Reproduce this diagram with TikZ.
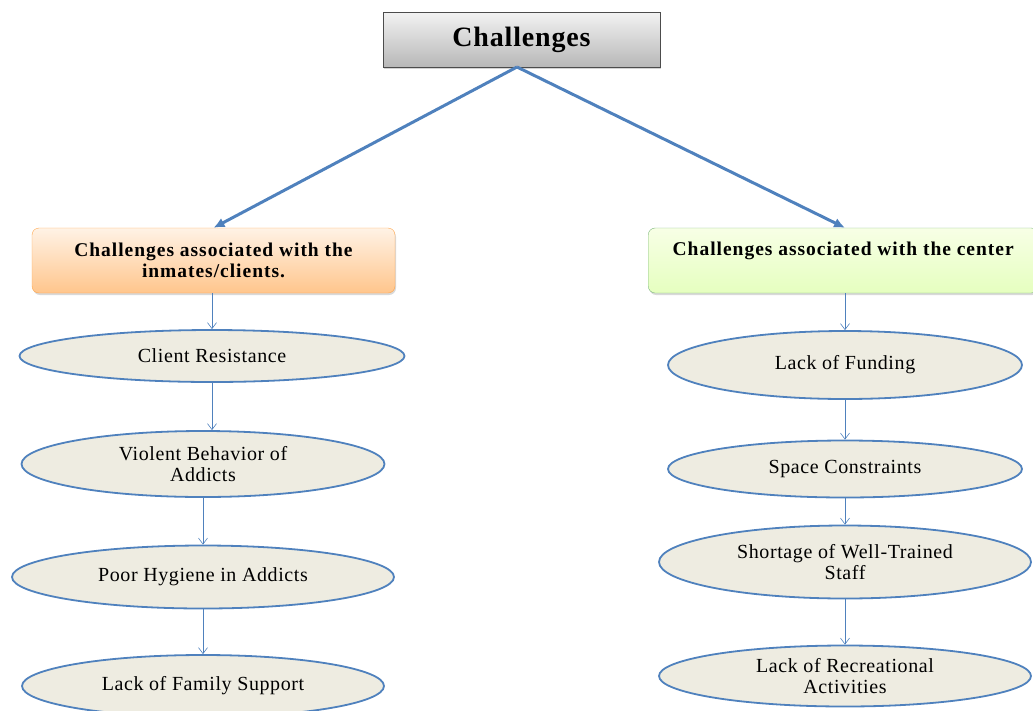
\documentclass[tikz,border=0pt]{standalone}
\usepackage{fontspec}
\setmainfont{Liberation Serif}
\usepackage{tikz}
\usetikzlibrary{arrows.meta,positioning,shapes.geometric,shadows}
\definecolor{obblue}{HTML}{4F81BD}
\definecolor{obeige}{HTML}{EEECE1}

\begin{document}
\begin{tikzpicture}[x=1pt,y=-1pt,
  topbox/.style={draw=black!70,thin,top color=white!95!black,bottom color=black!28,minimum width=277pt,minimum height=55pt,font=\fontsize{28}{30}\selectfont\bfseries\addfontfeature{LetterSpace=3},drop shadow={shadow xshift=1pt,shadow yshift=-2pt,opacity=.35}},
  groupbox/.style={rounded corners=7pt,thin,minimum height=65pt,align=center,font=\fontsize{19.5}{21}\selectfont\bfseries\addfontfeature{LetterSpace=5},drop shadow={shadow xshift=1pt,shadow yshift=-2pt,opacity=.3}},
  challenge/.style={ellipse,draw=obblue,line width=1.8pt,fill=obeige,inner sep=0pt,align=center,font=\fontsize{20}{21}\selectfont\addfontfeature{LetterSpace=3}},
  bigarrow/.style={-{Latex[length=11pt,width=10pt]},draw=obblue,line width=3pt},
  thinarrow/.style={-{Straight Barb[length=6pt,width=9pt]},draw=obblue,line width=.6pt}]
\useasboundingbox (0,0) rectangle (1033,710);
\node[topbox] (top) at (521.5,39.5) {Challenges};
\node[groupbox,draw=orange!70,top color=orange!10,bottom color=orange!45,minimum width=363pt] (clients) at (213.5,260.5) {Challenges associated with the\\inmates/clients.};
\node[groupbox,draw=green!45!black!50,top color=green!30!yellow!10,bottom color=green!40!yellow!25,minimum width=390pt,anchor=west,text depth=23pt] (center) at (648,260.5) {Challenges associated with the center};
\coordinate (apex) at (517,67);
\draw[bigarrow] (apex) -- (clients.north);
\draw[bigarrow] (apex) -- (center.north -| 845,0);
% inmates / clients column
\node[challenge,minimum width=385pt,minimum height=52pt] (resist) at (212,356) {Client Resistance};
\node[challenge,minimum width=363pt,minimum height=66pt] (violent) at (203,464) {Violent Behavior of\\Addicts};
\node[challenge,minimum width=382pt,minimum height=63pt] (hygiene) at (203,577) {Poor Hygiene in Addicts};
\node[challenge,minimum width=362pt,minimum height=62pt] (family) at (203,686) {Lack of Family Support};
\draw[thinarrow] (clients.south -| resist.north) -- (resist.north);
\draw[thinarrow] (resist.south) -- (resist.south |- violent.north);
\draw[thinarrow] (violent.south) -- (hygiene.north);
\draw[thinarrow] (hygiene.south) -- (family.north);
% center column
\node[challenge,minimum width=354pt,minimum height=68pt] (funding) at (845,365) {Lack of Funding};
\node[challenge,minimum width=354pt,minimum height=57pt] (space) at (845,469) {Space Constraints};
\node[challenge,minimum width=372pt,minimum height=73pt] (staff) at (845,562) {Shortage of Well-Trained\\Staff};
\node[challenge,minimum width=372pt,minimum height=61pt] (recreation) at (845,676) {Lack of Recreational\\Activities};
\draw[thinarrow] (center.south -| funding.north) -- (funding.north);
\draw[thinarrow] (funding.south) -- (space.north);
\draw[thinarrow] (space.south) -- (staff.north);
\draw[thinarrow] (staff.south) -- (recreation.north);
\end{tikzpicture}
\end{document}
